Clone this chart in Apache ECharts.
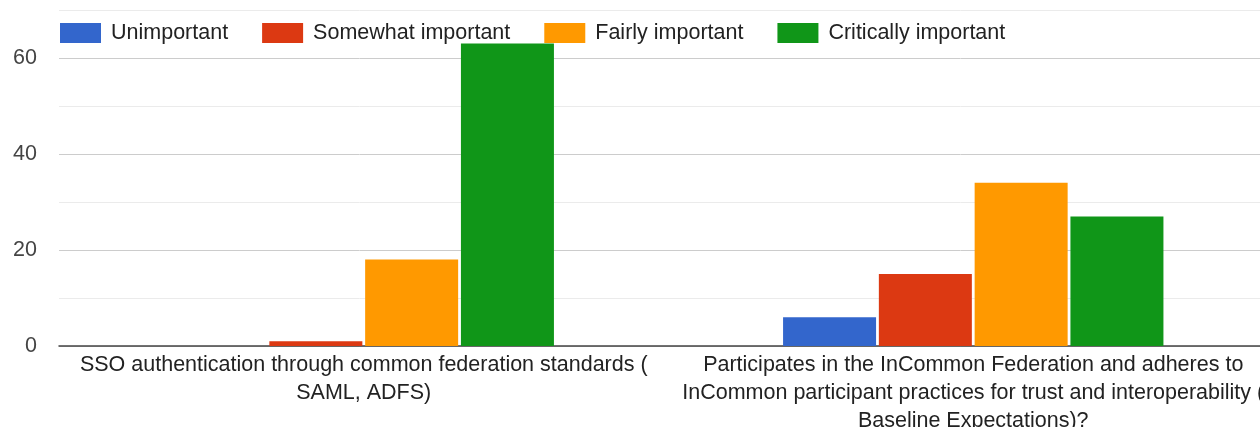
<!DOCTYPE html>
<html>
<head>
<meta charset="utf-8">
<script src="https://cdn.jsdelivr.net/npm/echarts@6/dist/echarts.min.js"></script>
<style>
html,body{margin:0;padding:0;background:#fff;overflow:hidden;}
#chart{width:1260px;height:427px;}
</style>
</head>
<body>
<div id="chart"></div>
<script>
const categories = [
  "SSO authentication through common federation standards (\nSAML, ADFS)",
  "Participates in the InCommon Federation and adheres to\nInCommon participant practices for trust and interoperability (\nBaseline Expectations)?"
];
const seriesNames = ["Unimportant", "Somewhat important", "Fairly important", "Critically important"];
const unimportant = [0, 6];
const somewhatImportant = [1, 15];
const fairlyImportant = [18, 34];
const criticallyImportant = [63, 27];
const colors = ["#3366cc", "#dc3912", "#ff9900", "#109618"];
const yTickLabels = [0, 20, 40, 60];

const values = [unimportant, somewhatImportant, fairlyImportant, criticallyImportant];
const font = "'Liberation Sans', Arial, sans-serif";

const chart = echarts.init(document.getElementById('chart'), null, {renderer: 'canvas', width: 1260, height: 427});
chart.setOption({
  animation: false,
  textStyle: {fontFamily: font},
  color: colors,
  legend: {
    top: 22, left: 60, padding: 0,
    itemWidth: 41, itemHeight: 20, itemGap: 34,
    icon: 'rect',
    textStyle: {fontSize: 21.5, color: '#222', fontFamily: font, padding: [0, 0, 0, 5]},
    data: seriesNames
  },
  grid: {left: 59, right: -18, top: 10, bottom: 81, containLabel: false, outerBoundsMode: 'none'},
  xAxis: {
    type: 'category',
    data: categories,
    axisTick: {show: false},
    axisLine: {lineStyle: {color: '#444', width: 1.5}},
    axisLabel: {interval: 0, fontSize: 21.5, color: '#222', lineHeight: 28, margin: 5, fontFamily: font}
  },
  yAxis: {
    type: 'value', min: 0, max: 70, interval: 10,
    axisLine: {show: false}, axisTick: {show: false},
    axisLabel: {
      fontSize: 21.5, color: '#444', margin: 22, fontFamily: font,
      formatter: v => yTickLabels.includes(v) ? String(v) : ''
    },
    splitLine: {lineStyle: {color: ['#ccc', '#ebebeb'], width: 1}}
  },
  series: seriesNames.map((name, i) => ({
    name, type: 'bar', data: values[i],
    barWidth: 93, barGap: '3%',
    itemStyle: {color: colors[i]}
  }))
});
</script>
</body>
</html>
